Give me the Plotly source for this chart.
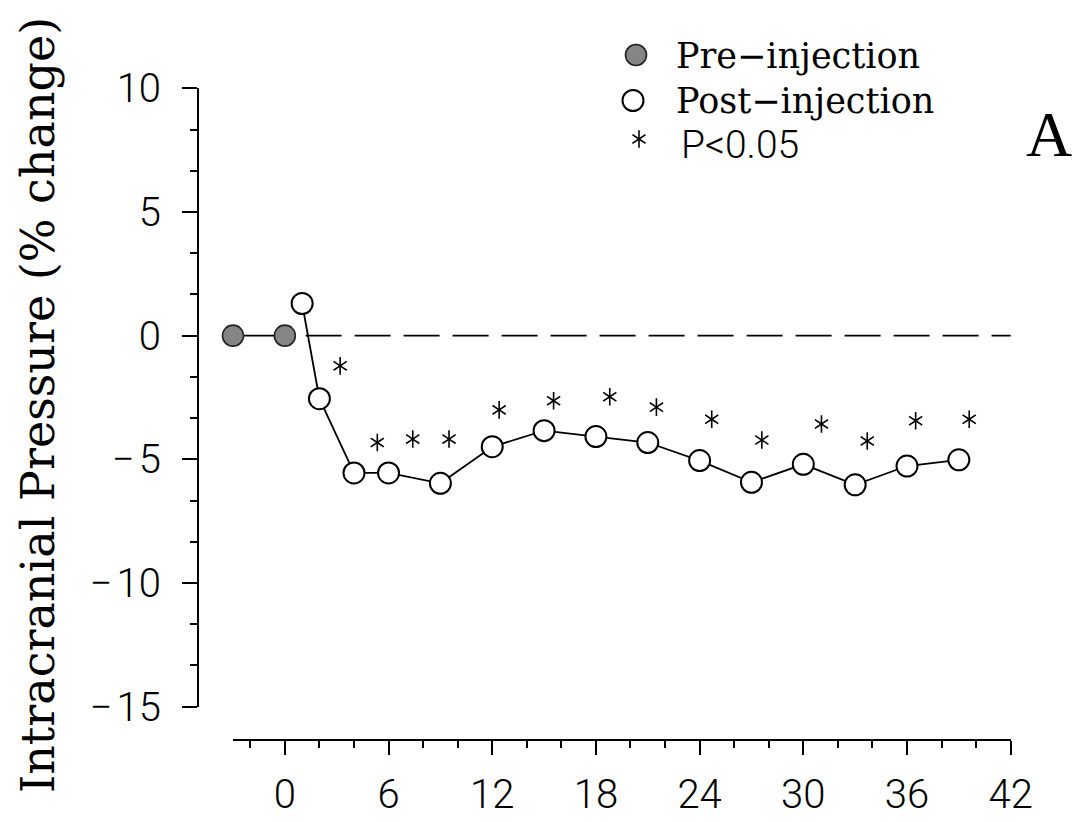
import plotly.graph_objects as go

# Intracranial pressure, % change from baseline, vs. time (min)
pre_x = [-3, 0]
pre_y = [0.0, 0.0]

post_x = [1, 2, 4, 6, 9, 12, 15, 18, 21, 24, 27, 30, 33, 36, 39]
post_y = [1.3, -2.55, -5.55, -5.55, -5.97, -4.49, -3.84, -4.08, -4.32,
          -5.05, -5.93, -5.2, -6.03, -5.27, -5.02]

# significance markers (P<0.05)
star_x = [3.2, 5.35, 7.4, 9.5, 12.4, 15.55, 18.8, 21.5, 24.7, 27.6, 31.05,
          33.7, 36.5, 39.6]
star_y = [-1.22, -4.32, -4.18, -4.18, -3.0, -2.63, -2.47, -2.89, -3.38,
          -4.22, -3.57, -4.26, -3.44, -3.38]

x_ticks = [0, 6, 12, 18, 24, 30, 36, 42]
y_ticks = [-15, -10, -5, 0, 5, 10]
y_ticktext = ["\u2212\u200a15", "\u2212\u200a10", "\u2212\u200a5", "0", "5", "10"]

legend_labels = ["Pre\u2212injection", "Post\u2212injection", "P<0.05"]

W, H = 1075, 822
SERIF = "DejaVu Serif"
SANS = "Roboto, Liberation Sans, sans-serif"

fig = go.Figure()

fig.add_trace(go.Scatter(
    x=pre_x, y=pre_y, mode="lines+markers", cliponaxis=False,
    line=dict(color="black", width=1.6),
    marker=dict(size=21, color="#858585", line=dict(color="#222", width=1.6)),
))
fig.add_trace(go.Scatter(
    x=post_x, y=post_y, mode="lines+markers", cliponaxis=False,
    line=dict(color="black", width=1.8),
    marker=dict(size=21, color="white", line=dict(color="black", width=2)),
))
for sym in ("y-up-open", "y-down-open"):
    fig.add_trace(go.Scatter(
        x=star_x, y=star_y, mode="markers", cliponaxis=False,
        marker=dict(symbol=sym, size=11, color="black",
                    line=dict(color="black", width=1.6)),
    ))

# legend glyphs on a full-figure overlay
leg_x = [636 / W, 633 / W, 639 / W]
leg_y = [1 - 55 / H, 1 - 100.5 / H, 1 - 139 / H]
fig.add_trace(go.Scatter(
    x=leg_x[:1], y=leg_y[:1], xaxis="x2", yaxis="y2", mode="markers",
    marker=dict(size=21, color="#858585", line=dict(color="#222", width=1.6)),
))
fig.add_trace(go.Scatter(
    x=leg_x[1:2], y=leg_y[1:2], xaxis="x2", yaxis="y2", mode="markers",
    marker=dict(size=21, color="white", line=dict(color="black", width=2)),
))
for sym in ("y-up-open", "y-down-open"):
    fig.add_trace(go.Scatter(
        x=leg_x[2:], y=leg_y[2:], xaxis="x2", yaxis="y2", mode="markers",
        marker=dict(symbol=sym, size=11, color="black",
                    line=dict(color="black", width=1.6)),
    ))

# zero reference line
fig.add_shape(type="line", xref="x", yref="y", x0=1.2, x1=42.3, y0=0, y1=0,
              line=dict(color="black", width=1.8, dash="36px,13px"))

text_rows_y = [1 - 56 / H, 1 - 101 / H, 1 - 145 / H]
fig.add_annotation(text=legend_labels[0], xref="paper", yref="paper",
                   x=674 / W, y=text_rows_y[0], xanchor="left", yanchor="middle",
                   showarrow=False, font=dict(family=SERIF, size=35, color="black"))
fig.add_annotation(text=legend_labels[1], xref="paper", yref="paper",
                   x=674 / W, y=text_rows_y[1], xanchor="left", yanchor="middle",
                   showarrow=False, font=dict(family=SERIF, size=35, color="black"))
fig.add_annotation(text=legend_labels[2], xref="paper", yref="paper",
                   x=679 / W, y=text_rows_y[2], xanchor="left", yanchor="middle",
                   showarrow=False, font=dict(family=SANS, size=39, color="black",
                                              weight=300))

# panel letter
fig.add_annotation(text="A", xref="paper", yref="paper", x=1049 / W, y=1 - 135 / H,
                   xanchor="center", yanchor="middle", showarrow=False,
                   font=dict(family="Liberation Serif", size=64, color="black"))

# y-axis title
fig.add_annotation(text="Intracranial Pressure (% change)", xref="paper", yref="paper",
                   x=38 / W, y=1 - 405 / H, textangle=-90, xanchor="center",
                   yanchor="middle", showarrow=False,
                   font=dict(family=SERIF, size=46, color="black"))

fig.update_layout(
    width=W, height=H,
    margin=dict(l=0, r=0, t=0, b=0, autoexpand=False),
    paper_bgcolor="white", plot_bgcolor="rgba(0,0,0,0)",
    showlegend=False,
    xaxis=dict(
        range=[-3, 42], domain=[233 / W, 1010.7 / W],
        anchor="free", position=1 - 740 / H, automargin=False,
        showline=True, linecolor="black", linewidth=2, mirror=False,
        showgrid=False, zeroline=False,
        tickmode="array", tickvals=x_ticks, ticktext=[str(v) for v in x_ticks],
        ticks="outside", ticklen=14, tickwidth=2, tickcolor="black",
        ticklabelstandoff=5,
        tickfont=dict(family=SANS, size=40, color="black", weight=300),
        minor=dict(tickmode="linear", tick0=0, dtick=2, ticks="outside",
                   ticklen=7, tickwidth=2, tickcolor="black", showgrid=False),
    ),
    yaxis=dict(
        range=[-15, 10], domain=[1 - 706.7 / H, 1 - 88.3 / H],
        anchor="free", position=198 / W, automargin=False,
        showline=True, linecolor="black", linewidth=2,
        showgrid=False, zeroline=False,
        tickmode="array", tickvals=y_ticks, ticktext=y_ticktext,
        ticks="outside", ticklen=15, tickwidth=2, tickcolor="black",
        ticklabelstandoff=13,
        tickfont=dict(family=SANS, size=40, color="black", weight=300),
        minor=dict(tickmode="linear", tick0=-15, dtick=5 / 3, ticks="outside",
                   ticklen=7, tickwidth=2, tickcolor="black", showgrid=False),
    ),
    xaxis2=dict(domain=[0, 1], range=[0, 1], visible=False, anchor="y2",
                fixedrange=True, automargin=False),
    yaxis2=dict(domain=[0, 1], range=[0, 1], visible=False, anchor="x2",
                fixedrange=True, automargin=False),
)

fig.write_html("out.html")
